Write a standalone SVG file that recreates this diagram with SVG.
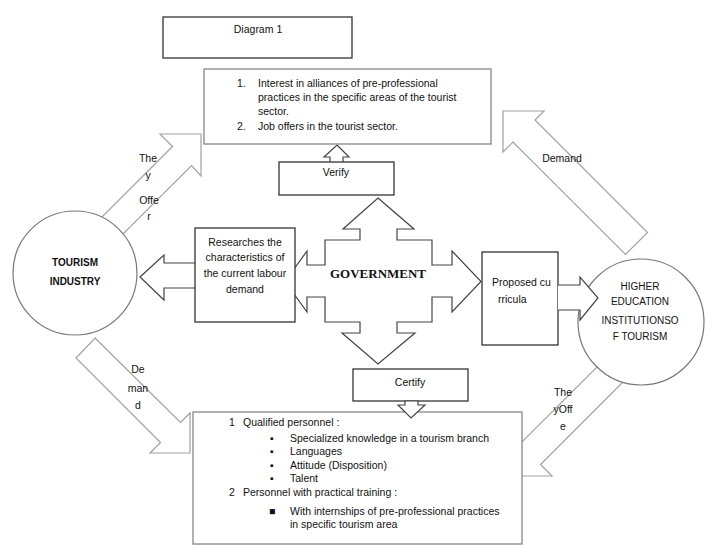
<svg xmlns="http://www.w3.org/2000/svg" width="710" height="546" viewBox="0 0 710 546">
<style>
.t{font-family:"Liberation Sans",Arial,sans-serif;font-size:10.5px;fill:#111}
.s{font-size:10px}
.b{font-weight:bold}
.box{fill:#fff;stroke:#333;stroke-width:1.3}
.gbox{fill:#fff;stroke:#888;stroke-width:1.3}
.blk{fill:#fff;stroke:#a0a0a0;stroke-width:1.2}
.dk{fill:#fff;stroke:#444;stroke-width:1.2}
.circ{fill:#fff;stroke:#777;stroke-width:1.2}
</style>
<rect width="710" height="546" fill="#fff"/>
<g id="connectors">
<path id="offer-left" class="blk" d="M201,134 L201,176 L191.5,165.5 L78.5,278.5 L59.5,259.5 L172.5,146.5 L160,134 Z"/>
<path id="demand-right" class="blk" d="M503,111 L544,111 L535,120 L647.5,232.5 L625.5,254.5 L513,142 L503,152 Z"/>
<path id="demand-left" class="blk" d="M95,338 L180.5,422.5 L190,413 L190,453 L150,453 L160.5,442.5 L76,358 Z"/>
<path id="offer-right" class="blk" d="M512,476 L512,436 L520,444 L647,317 L667.5,337.5 L540.5,464.5 L552,476 Z"/>
<path id="research-arrow" class="dk" d="M140,277 L164,255 L164,263 L196,263 L196,288 L164,288 L164,300 Z"/>
<path id="gov-arrow" class="dk" d="M378,198 L414,229 L397,229 L397,240 L432,240 L432,265 L452,265 L452,251 L481,281.5 L452,312 L452,297 L432,297 L432,322 L397,322 L397,333 L415,333 L378,364 L342,333 L360,333 L360,322 L325,322 L325,297 L307,297 L307,312 L285,281.5 L307,251 L307,265 L325,265 L325,240 L360,240 L360,229 L343,229 Z"/>
<path id="verify-arrow" class="dk" d="M337,145 L349,157 L343,157 L343,163 L330,163 L330,157 L324,157 Z"/>
</g>
<g id="title"><rect class="box" x="163" y="17" width="189" height="41" stroke="#222"/><text class="t" x="258" y="33" text-anchor="middle">Diagram 1</text></g>
<g id="top-box"><rect class="gbox" x="204" y="69" width="287" height="75"/>
<text class="t" x="237" y="87">1.</text><text class="t" x="258" y="87">Interest in alliances of pre-professional</text>
<text class="t" x="258" y="101">practices in the specific areas of the tourist</text>
<text class="t" x="258" y="115">sector.</text>
<text class="t" x="237" y="130">2.</text><text class="t" x="258" y="130">Job offers in the tourist sector.</text></g>
<g id="verify"><rect class="box" x="279" y="162" width="115" height="33"/><text class="t" x="336" y="176" text-anchor="middle">Verify</text></g>
<g id="tourism"><circle class="circ" cx="75" cy="273" r="62"/><text class="t b s" x="75" y="266" text-anchor="middle">TOURISM</text><text class="t b s" x="75" y="285" text-anchor="middle">INDUSTRY</text></g>
<g id="research"><rect class="box" x="195" y="228" width="100" height="94"/>
<text class="t" x="245" y="246" text-anchor="middle">Researches the</text>
<text class="t" x="245" y="261" text-anchor="middle">characteristics of</text>
<text class="t" x="245" y="277" text-anchor="middle">the current labour</text>
<text class="t" x="245" y="293" text-anchor="middle">demand</text></g>
<g id="government"><text x="378" y="278" text-anchor="middle" style="font-family:'Liberation Serif','Times New Roman',serif;font-weight:bold;font-size:13px;fill:#111">GOVERNMENT</text></g>
<g id="hei"><circle class="circ" cx="641" cy="322" r="63"/>
<text class="t s" x="640" y="290" text-anchor="middle">HIGHER</text>
<text class="t s" x="640" y="305" text-anchor="middle">EDUCATION</text>
<text class="t s" x="640" y="324" text-anchor="middle">INSTITUTIONSO</text>
<text class="t s" x="640" y="340" text-anchor="middle">F TOURISM</text></g>
<g id="proposed"><rect class="box" x="482" y="252" width="76" height="93"/>
<text class="t" x="492" y="286">Proposed cu</text><text class="t" x="498" y="303">rricula</text>
<path class="dk" d="M558,285 L580,285 L580,277 L598,298 L580,320 L580,310 L558,310"/></g>
<g id="certify"><rect class="box" x="353" y="369" width="115" height="32"/><text class="t" x="410" y="386" text-anchor="middle">Certify</text></g>
<g id="bottom-box"><rect class="gbox" x="193" y="412" width="329" height="132"/>
<text class="t" x="229" y="426">1</text><text class="t" x="243" y="426">Qualified personnel :</text>
<text class="t" x="270" y="442">▪</text><text class="t" x="290" y="442">Specialized knowledge in a tourism branch</text>
<text class="t" x="270" y="455">▪</text><text class="t" x="290" y="455">Languages</text>
<text class="t" x="270" y="469">▪</text><text class="t" x="290" y="469">Attitude (Disposition)</text>
<text class="t" x="270" y="482">▪</text><text class="t" x="290" y="482">Talent</text>
<text class="t" x="229" y="496">2</text><text class="t" x="243" y="496">Personnel with practical training :</text>
<text class="t" x="269" y="515">■</text><text class="t" x="290" y="515">With internships of pre-professional practices</text>
<text class="t" x="290" y="528">in specific tourism area</text></g>
<g id="certify-arrow"><path class="dk" d="M405,401 L418,401 L418,405 L425,405 L411,418 L398,405 L405,405 Z"/></g>
<g id="labels">
<text class="t" x="148" y="162" text-anchor="middle">The</text>
<text class="t" x="148" y="179" text-anchor="middle">y</text>
<text class="t" x="149" y="204" text-anchor="middle">Offe</text>
<text class="t" x="149" y="220" text-anchor="middle">r</text>
<text class="t" x="562" y="162" text-anchor="middle">Demand</text>
<text class="t" x="138" y="373" text-anchor="middle">De</text>
<text class="t" x="138" y="392" text-anchor="middle">man</text>
<text class="t" x="138" y="409" text-anchor="middle">d</text>
<text class="t" x="563" y="396" text-anchor="middle">The</text>
<text class="t" x="563" y="413" text-anchor="middle">yOff</text>
<text class="t" x="563" y="430" text-anchor="middle">e</text>
</g>
</svg>
